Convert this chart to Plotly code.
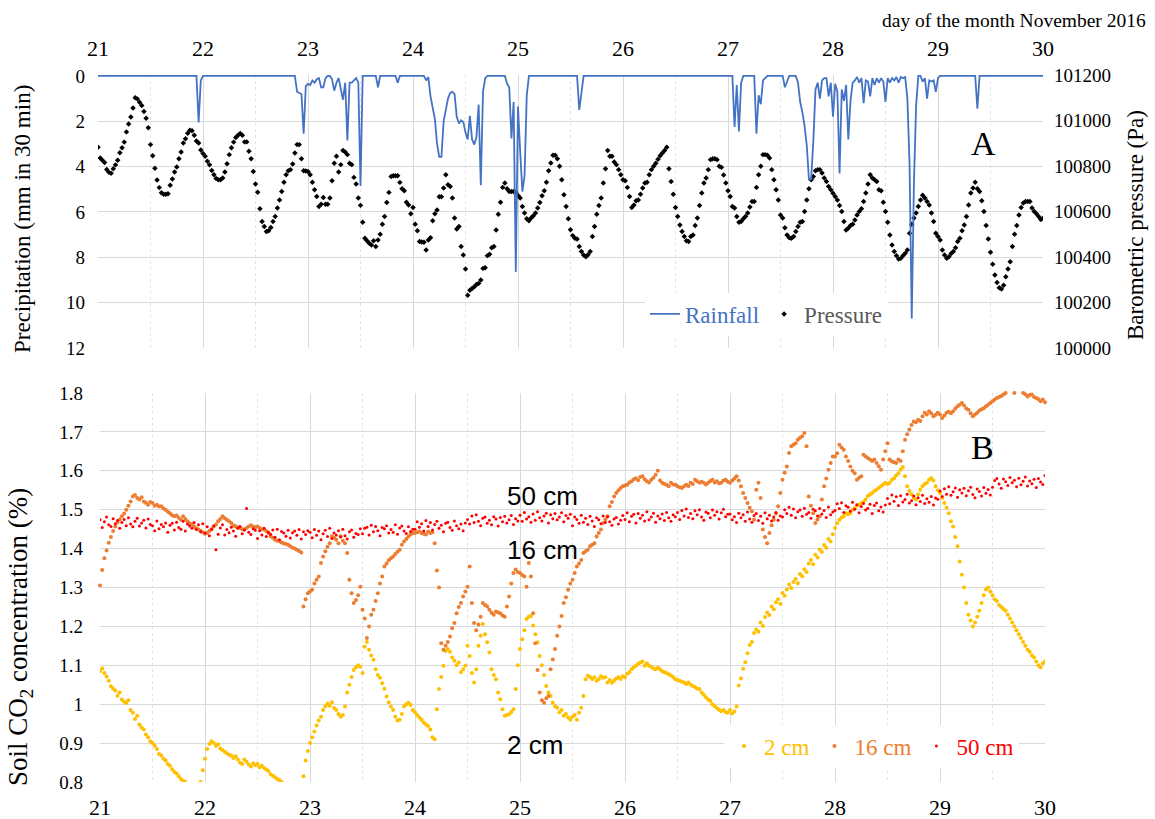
import numpy as np
import plotly.graph_objects as go

# Half-hourly timeline, 21 Nov 2016 00:00 -> 30 Nov 2016 00:00 (day of month)
N_SLOTS = 433
days = 21 + np.arange(N_SLOTS) / 48.0
day_ticks = list(range(21, 31))

# Barometric pressure (Pa), one row per day, 48 half-hour readings
pressure_pa = [
    100882, 100835, 100825, 100815, 100785, 100772, 100768, 100788, 100805, 100825, 100858, 100880, 100905, 100950, 100985, 101015, 101055, 101100, 101095, 101080, 101066, 101040, 101010, 100968, 100894, 100845, 100790, 100738, 100705, 100682, 100676, 100676, 100678, 100715, 100743, 100774, 100796, 100832, 100862, 100901, 100920, 100944, 100957, 100955, 100935, 100910, 100901, 100870,
    100855, 100843, 100821, 100805, 100780, 100762, 100745, 100740, 100740, 100747, 100774, 100810, 100850, 100880, 100905, 100925, 100935, 100943, 100935, 100906, 100906, 100865, 100832, 100776, 100721, 100685, 100612, 100556, 100534, 100512, 100515, 100530, 100556, 100578, 100615, 100651, 100688, 100729, 100762, 100779, 100784, 100809, 100857, 100894, 100894, 100832, 100779, 100778,
    100776, 100762, 100729, 100696, 100666, 100622, 100632, 100662, 100632, 100632, 100659, 100735, 100812, 100843, 100774, 100806, 100868, 100862, 100850, 100812, 100806, 100750, 100721, 100659, 100627, 100553, 100482, 100471, 100460, 100453, 100471, 100446, 100475, 100500, 100544, 100578, 100640, 100684, 100754, 100757, 100757, 100757, 100728, 100700, 100691, 100641, 100629, 100590,
    100618, 100544, 100515, 100468, 100466, 100465, 100431, 100475, 100485, 100559, 100590, 100607, 100665, 100665, 100703, 100762, 100718, 100710, 100659, 100571, 100523, 100534, 100446, 100409, 100347, 100232, 100254, 100262, 100269, 100279, 100284, 100299, 100350, 100353, 100406, 100412, 100441, 100446, 100519, 100588, 100641, 100706, 100725, 100700, 100688, 100688, 100688, 100685,
    100670, 100659, 100622, 100593, 100568, 100559, 100571, 100581, 100593, 100615, 100640, 100669, 100691, 100729, 100779, 100813, 100847, 100847, 100832, 100799, 100740, 100674, 100622, 100568, 100520, 100494, 100482, 100479, 100446, 100424, 100409, 100401, 100410, 100424, 100490, 100534, 100588, 100626, 100659, 100725, 100788, 100868, 100843, 100843, 100818, 100806, 100784, 100762,
    100740, 100735, 100706, 100666, 100618, 100629, 100647, 100651, 100676, 100703, 100725, 100729, 100762, 100784, 100799, 100812, 100830, 100845, 100857, 100868, 100882, 100788, 100732, 100676, 100618, 100578, 100541, 100512, 100490, 100471, 100468, 100490, 100497, 100538, 100571, 100626, 100681, 100725, 100747, 100784, 100828, 100832, 100832, 100828, 100799, 100794, 100760, 100725,
    100691, 100666, 100622, 100615, 100578, 100553, 100556, 100568, 100578, 100593, 100620, 100644, 100644, 100706, 100762, 100799, 100850, 100850, 100847, 100835, 100784, 100740, 100696, 100651, 100585, 100571, 100529, 100497, 100485, 100482, 100490, 100512, 100534, 100553, 100556, 100600, 100651, 100700, 100740, 100754, 100779, 100784, 100784, 100769, 100747, 100732, 100710, 100696,
    100680, 100666, 100651, 100626, 100600, 100556, 100519, 100527, 100538, 100544, 100563, 100585, 100600, 100612, 100644, 100681, 100721, 100762, 100747, 100740, 100732, 100696, 100691, 100641, 100600, 100553, 100497, 100453, 100424, 100406, 100391, 100394, 100406, 100416, 100431, 100504, 100544, 100571, 100593, 100622, 100651, 100671, 100659, 100644, 100629, 100593, 100556, 100504,
    100490, 100475, 100431, 100409, 100394, 100401, 100415, 100424, 100441, 100468, 100482, 100515, 100541, 100578, 100629, 100681, 100703, 100729, 100700, 100688, 100647, 100600, 100538, 100479, 100421, 100368, 100321, 100288, 100265, 100259, 100276, 100313, 100347, 100379, 100446, 100500, 100538, 100585, 100618, 100637, 100644, 100644, 100644, 100615, 100600, 100590, 100578, 100565,
    100570,
]

# Rainfall (mm in 30 min): first half-hour slot of each shower and its readings
rain_start = [46, 91, 107, 128, 137, 150, 187, 220, 291, 301, 314, 320, 377, 402]
rain_burst_mm = [
    [2.05, 0.2],
    [0.7, 0.75, 0.8, 2.55, 0.45, 0.35, 0.4, 0.2, 0.3, 0.15, 0.1, 0.5, 0.5, 0.1],
    [0.15, 0.65, 0.3, 0.1, 0.65, 1.05, 0.3, 2.85, 0.3, 0.3, 0.2, 0.1, 0.3, 4.85],
    [0.5],
    [0.3],
    [0.2, 0.05, 0.9, 1.5, 1.9, 3.0, 3.57, 3.57, 2.0, 1.5, 1.0, 0.75, 0.7, 0.8, 1.8, 2.1, 1.96, 2.03, 2.5, 2.8,
     1.76, 2.8, 3.03, 2.7, 1.26, 4.82, 0.7, 0.1],
    [0.34, 0.5, 2.76, 1.15, 8.65, 1.35, 3.35, 5.1, 4.4, 0.85],
    [1.5, 0.7],
    [2.25, 0.4, 2.45, 0.3],
    [2.55, 0.85, 1.25, 0.2, 0.1],
    [0.5, 0.2],
    [0.3, 1.15, 1.6, 2.2, 3.06, 4.56, 4.56, 2.9, 0.6, 0.3, 1.0, 0.2, 0.1, 0.1, 0.9, 0.3, 1.8, 0.35, 0.7, 4.3,
     0.6, 1.1, 0.4, 2.8, 1.1, 0.3, 0.2, 0.05, 0.3, 0.1, 1.2, 0.2, 0.25, 0.9, 0.1, 0.4, 0.1, 0.3, 0.1, 0.25,
     1.15, 0.1, 0.3, 0.1, 0.2, 0.05, 0.3, 0.05, 0.1, 0.05, 1.0, 3.9, 10.7, 4.7, 1.3],
    [0.25, 0.1, 1.0, 0.2, 0.25, 0.2, 0.7, 0.1],
    [1.45],
]

# Soil CO2 concentration (%), 48 half-hour readings per day
co2_2cm = [
    1.085, 1.092, 1.080, 1.071, 1.060, 1.046, 1.040, 1.035, 1.022, 1.030, 1.012, 1.006, 1.003, 1.010, 0.985, 0.978, 0.962, 0.970, 0.948, 0.940, 0.935, 0.922, 0.915, 0.905, 0.900, 0.893, 0.885, 0.872, 0.868, 0.860, 0.855, 0.846, 0.842, 0.833, 0.826, 0.822, 0.815, 0.808, 0.803, 0.800, 0.795, 0.790, 0.785, 0.782, 0.780, 0.785, 0.800, 0.830,
    0.860, 0.885, 0.898, 0.905, 0.900, 0.893, 0.897, 0.886, 0.882, 0.878, 0.874, 0.870, 0.868, 0.862, 0.866, 0.858, 0.850, 0.846, 0.858, 0.852, 0.845, 0.840, 0.848, 0.843, 0.846, 0.838, 0.842, 0.836, 0.832, 0.828, 0.820, 0.816, 0.812, 0.808, 0.805, 0.800, 0.795, 0.790, 0.785, 0.782, 0.780, 0.778, 0.780, 0.785, 0.792, 0.815, 0.855, 0.880,
    0.900, 0.915, 0.930, 0.945, 0.958, 0.968, 0.985, 0.995, 1.002, 0.996, 1.005, 0.990, 0.985, 0.975, 0.968, 0.972, 0.994, 1.030, 1.050, 1.070, 1.088, 1.095, 1.100, 1.096, 1.080, 1.148, 1.160, 1.140, 1.125, 1.114, 1.090, 1.075, 1.068, 1.054, 1.040, 1.020, 1.005, 0.994, 0.985, 0.968, 0.958, 0.960, 0.975, 0.995, 1.000, 1.004, 0.998, 0.985,
    0.979, 0.972, 0.966, 0.960, 0.953, 0.948, 0.944, 0.935, 0.915, 0.910, 0.987, 1.039, 1.070, 1.099, 1.137, 1.142, 1.135, 1.120, 1.112, 1.100, 1.107, 1.082, 1.090, 1.099, 1.150, 1.124, 1.080, 1.056, 1.090, 1.150, 1.176, 1.206, 1.180, 1.159, 1.133, 1.090, 1.075, 1.064, 1.030, 1.013, 0.987, 0.970, 0.972, 0.974, 0.980, 0.987, 1.039, 1.100,
    1.142, 1.167, 1.190, 1.219, 1.225, 1.227, 1.202, 1.180, 1.159, 1.124, 1.100, 1.075, 1.047, 1.030, 1.021, 1.004, 0.995, 0.991, 0.979, 0.985, 0.970, 0.975, 0.966, 0.960, 0.968, 0.972, 0.960, 0.978, 0.991, 1.021, 1.064, 1.073, 1.070, 1.065, 1.069, 1.060, 1.064, 1.072, 1.068, 1.069, 1.056, 1.062, 1.055, 1.060, 1.066, 1.069, 1.065, 1.072,
    1.069, 1.078, 1.082, 1.090, 1.095, 1.099, 1.104, 1.107, 1.110, 1.099, 1.105, 1.099, 1.096, 1.092, 1.090, 1.094, 1.090, 1.085, 1.082, 1.080, 1.077, 1.074, 1.070, 1.064, 1.062, 1.060, 1.058, 1.056, 1.052, 1.056, 1.050, 1.047, 1.044, 1.040, 1.039, 1.030, 1.024, 1.018, 1.012, 1.008, 1.000, 0.995, 0.990, 0.986, 0.982, 0.985, 0.980, 0.978,
    0.985, 0.976, 0.981, 0.994, 1.048, 1.066, 1.091, 1.108, 1.131, 1.152, 1.160, 1.183, 1.192, 1.186, 1.210, 1.201, 1.224, 1.236, 1.229, 1.251, 1.244, 1.262, 1.270, 1.258, 1.286, 1.279, 1.295, 1.308, 1.299, 1.314, 1.322, 1.311, 1.335, 1.329, 1.347, 1.340, 1.362, 1.371, 1.360, 1.384, 1.377, 1.398, 1.391, 1.409, 1.402, 1.425, 1.418, 1.437,
    1.453, 1.465, 1.474, 1.480, 1.483, 1.491, 1.488, 1.491, 1.500, 1.504, 1.510, 1.513, 1.517, 1.520, 1.526, 1.535, 1.539, 1.543, 1.548, 1.551, 1.556, 1.560, 1.565, 1.569, 1.566, 1.569, 1.577, 1.581, 1.588, 1.594, 1.603, 1.610, 1.586, 1.560, 1.548, 1.539, 1.530, 1.526, 1.540, 1.551, 1.560, 1.566, 1.569, 1.577, 1.581, 1.575, 1.560, 1.550,
    1.543, 1.530, 1.517, 1.505, 1.491, 1.470, 1.457, 1.430, 1.406, 1.367, 1.333, 1.300, 1.260, 1.230, 1.215, 1.200, 1.210, 1.225, 1.240, 1.260, 1.280, 1.295, 1.300, 1.290, 1.280, 1.270, 1.265, 1.255, 1.250, 1.245, 1.240, 1.230, 1.220, 1.210, 1.200, 1.190, 1.180, 1.170, 1.160, 1.150, 1.140, 1.135, 1.125, 1.120, 1.110, 1.100, 1.095, 1.105,
    1.110,
]

co2_16cm = [
    1.305, 1.345, 1.375, 1.395, 1.415, 1.430, 1.445, 1.457, 1.468, 1.475, 1.483, 1.490, 1.500, 1.510, 1.521, 1.534, 1.538, 1.530, 1.526, 1.532, 1.521, 1.518, 1.513, 1.520, 1.517, 1.510, 1.513, 1.508, 1.509, 1.503, 1.500, 1.495, 1.491, 1.486, 1.483, 1.485, 1.479, 1.474, 1.483, 1.476, 1.470, 1.465, 1.462, 1.457, 1.452, 1.449, 1.446, 1.442,
    1.438, 1.440, 1.445, 1.450, 1.457, 1.462, 1.470, 1.476, 1.483, 1.478, 1.474, 1.470, 1.466, 1.460, 1.457, 1.455, 1.453, 1.450, 1.449, 1.453, 1.457, 1.460, 1.457, 1.455, 1.457, 1.453, 1.450, 1.449, 1.445, 1.440, 1.432, 1.428, 1.423, 1.420, 1.419, 1.416, 1.414, 1.412, 1.410, 1.406, 1.402, 1.400, 1.397, 1.394, 1.390, 1.251, 1.270, 1.285,
    1.290, 1.294, 1.310, 1.320, 1.328, 1.363, 1.380, 1.393, 1.405, 1.414, 1.432, 1.428, 1.423, 1.414, 1.432, 1.420, 1.414, 1.389, 1.320, 1.285, 1.260, 1.268, 1.280, 1.302, 1.243, 1.220, 1.170, 1.200, 1.230, 1.243, 1.265, 1.285, 1.310, 1.328, 1.354, 1.362, 1.370, 1.375, 1.380, 1.386, 1.392, 1.397, 1.410, 1.418, 1.425, 1.431, 1.436, 1.440,
    1.440, 1.442, 1.444, 1.440, 1.438, 1.436, 1.444, 1.440, 1.442, 1.414, 1.344, 1.300, 1.157, 1.140, 1.150, 1.160, 1.174, 1.195, 1.209, 1.234, 1.250, 1.260, 1.277, 1.290, 1.302, 1.354, 1.260, 1.209, 1.190, 1.205, 1.225, 1.260, 1.255, 1.251, 1.243, 1.235, 1.230, 1.238, 1.236, 1.234, 1.228, 1.225, 1.251, 1.277, 1.310, 1.337, 1.346, 1.340,
    1.337, 1.332, 1.328, 1.302, 1.363, 1.328, 1.234, 1.157, 1.088, 1.030, 1.010, 1.004, 1.015, 1.021, 1.090, 1.115, 1.142, 1.176, 1.200, 1.227, 1.260, 1.275, 1.294, 1.310, 1.320, 1.337, 1.354, 1.362, 1.371, 1.389, 1.393, 1.397, 1.406, 1.410, 1.414, 1.431, 1.440, 1.449, 1.466, 1.475, 1.483, 1.509, 1.520, 1.534, 1.543, 1.550, 1.556, 1.560,
    1.562, 1.564, 1.570, 1.573, 1.578, 1.581, 1.576, 1.584, 1.586, 1.578, 1.573, 1.570, 1.577, 1.582, 1.590, 1.600, 1.575, 1.569, 1.566, 1.564, 1.560, 1.569, 1.565, 1.564, 1.560, 1.558, 1.556, 1.560, 1.564, 1.561, 1.569, 1.566, 1.577, 1.573, 1.569, 1.572, 1.569, 1.565, 1.569, 1.574, 1.577, 1.570, 1.573, 1.568, 1.569, 1.575, 1.577, 1.572,
    1.569, 1.575, 1.580, 1.586, 1.575, 1.560, 1.543, 1.530, 1.517, 1.505, 1.496, 1.474, 1.551, 1.569, 1.530, 1.449, 1.430, 1.414, 1.440, 1.460, 1.474, 1.490, 1.509, 1.543, 1.577, 1.595, 1.611, 1.646, 1.663, 1.667, 1.671, 1.680, 1.685, 1.689, 1.697, 1.663, 1.534, 1.510, 1.491, 1.466, 1.475, 1.483, 1.526, 1.560, 1.580, 1.603, 1.620, 1.637,
    1.637, 1.645, 1.667, 1.660, 1.654, 1.637, 1.625, 1.611, 1.600, 1.594, 1.577, 1.582, 1.586, 1.641, 1.637, 1.633, 1.629, 1.625, 1.629, 1.620, 1.612, 1.603, 1.629, 1.650, 1.671, 1.629, 1.624, 1.622, 1.620, 1.629, 1.625, 1.650, 1.680, 1.694, 1.706, 1.718, 1.727, 1.725, 1.731, 1.728, 1.740, 1.749, 1.745, 1.753, 1.748, 1.740, 1.744, 1.749,
    1.745, 1.736, 1.742, 1.749, 1.752, 1.748, 1.753, 1.760, 1.766, 1.770, 1.774, 1.768, 1.760, 1.757, 1.748, 1.740, 1.745, 1.749, 1.755, 1.758, 1.761, 1.766, 1.770, 1.774, 1.779, 1.783, 1.787, 1.790, 1.792, 1.796, 1.800, 1.804, 1.802, 1.806, 1.800, 1.805, 1.808, 1.803, 1.800, 1.797, 1.791, 1.795, 1.796, 1.790, 1.787, 1.784, 1.779, 1.783,
    1.776,
]

co2_50cm = [
    1.474, 1.454, 1.469, 1.481, 1.461, 1.457, 1.477, 1.464, 1.472, 1.452, 1.467, 1.475, 1.459, 1.479, 1.463, 1.456, 1.470, 1.478, 1.458, 1.466, 1.473, 1.453, 1.476, 1.462, 1.459, 1.446, 1.471, 1.451, 1.462, 1.456, 1.466, 1.442, 1.460, 1.465, 1.448, 1.468, 1.454, 1.450, 1.470, 1.445, 1.463, 1.458, 1.452, 1.467, 1.449, 1.461, 1.443, 1.464,
    1.440, 1.456, 1.433, 1.450, 1.458, 1.397, 1.437, 1.453, 1.461, 1.435, 1.449, 1.441, 1.455, 1.445, 1.432, 1.452, 1.457, 1.438, 1.448, 1.503, 1.442, 1.436, 1.451, 1.447, 1.426, 1.446, 1.435, 1.452, 1.431, 1.442, 1.437, 1.448, 1.429, 1.450, 1.423, 1.444, 1.440, 1.432, 1.447, 1.427, 1.441, 1.445, 1.434, 1.449, 1.425, 1.443, 1.436, 1.446,
    1.442, 1.428, 1.449, 1.434, 1.445, 1.423, 1.438, 1.447, 1.431, 1.452, 1.426, 1.440, 1.435, 1.446, 1.430, 1.450, 1.433, 1.425, 1.443, 1.448, 1.429, 1.439, 1.436, 1.451, 1.438, 1.452, 1.455, 1.435, 1.460, 1.443, 1.457, 1.446, 1.433, 1.454, 1.451, 1.459, 1.440, 1.449, 1.442, 1.461, 1.437, 1.453, 1.458, 1.445, 1.439, 1.456, 1.444, 1.450,
    1.450, 1.469, 1.455, 1.464, 1.445, 1.472, 1.457, 1.467, 1.448, 1.462, 1.470, 1.452, 1.460, 1.443, 1.465, 1.468, 1.454, 1.447, 1.471, 1.459, 1.451, 1.463, 1.446, 1.466, 1.475, 1.463, 1.484, 1.467, 1.487, 1.470, 1.459, 1.478, 1.481, 1.465, 1.473, 1.461, 1.482, 1.476, 1.458, 1.480, 1.469, 1.483, 1.466, 1.474, 1.485, 1.462, 1.477, 1.471,
    1.486, 1.470, 1.493, 1.476, 1.482, 1.468, 1.489, 1.473, 1.495, 1.479, 1.471, 1.484, 1.491, 1.466, 1.487, 1.477, 1.490, 1.474, 1.481, 1.492, 1.469, 1.485, 1.478, 1.488, 1.459, 1.481, 1.475, 1.465, 1.486, 1.468, 1.478, 1.462, 1.483, 1.471, 1.457, 1.479, 1.474, 1.464, 1.484, 1.467, 1.482, 1.469, 1.460, 1.476, 1.480, 1.463, 1.473, 1.485,
    1.475, 1.492, 1.469, 1.483, 1.488, 1.466, 1.490, 1.478, 1.486, 1.471, 1.495, 1.474, 1.481, 1.491, 1.468, 1.484, 1.477, 1.489, 1.472, 1.493, 1.479, 1.470, 1.487, 1.482, 1.493, 1.475, 1.498, 1.484, 1.502, 1.480, 1.490, 1.477, 1.497, 1.487, 1.500, 1.481, 1.473, 1.494, 1.491, 1.479, 1.499, 1.486, 1.495, 1.476, 1.492, 1.501, 1.482, 1.488,
    1.489, 1.474, 1.482, 1.467, 1.491, 1.479, 1.487, 1.470, 1.494, 1.476, 1.468, 1.485, 1.490, 1.472, 1.483, 1.465, 1.492, 1.477, 1.486, 1.471, 1.481, 1.493, 1.473, 1.484, 1.481, 1.500, 1.490, 1.506, 1.486, 1.502, 1.479, 1.495, 1.499, 1.483, 1.504, 1.488, 1.493, 1.478, 1.501, 1.497, 1.484, 1.503, 1.489, 1.498, 1.480, 1.507, 1.487, 1.494,
    1.498, 1.515, 1.503, 1.518, 1.493, 1.510, 1.506, 1.496, 1.519, 1.501, 1.513, 1.492, 1.508, 1.516, 1.499, 1.504, 1.514, 1.490, 1.511, 1.517, 1.497, 1.507, 1.494, 1.512, 1.529, 1.515, 1.538, 1.522, 1.533, 1.511, 1.536, 1.520, 1.526, 1.540, 1.517, 1.523, 1.535, 1.513, 1.531, 1.521, 1.537, 1.516, 1.528, 1.519, 1.534, 1.512, 1.530, 1.527,
    1.548, 1.534, 1.554, 1.540, 1.559, 1.537, 1.546, 1.556, 1.532, 1.551, 1.543, 1.555, 1.536, 1.549, 1.558, 1.539, 1.531, 1.553, 1.547, 1.535, 1.557, 1.542, 1.552, 1.538, 1.558, 1.575, 1.580, 1.566, 1.555, 1.579, 1.572, 1.562, 1.583, 1.569, 1.576, 1.559, 1.581, 1.564, 1.573, 1.584, 1.561, 1.574, 1.567, 1.578, 1.557, 1.580, 1.571, 1.565,
    1.588,
]

for series in (pressure_pa, co2_2cm, co2_16cm, co2_50cm):
    assert len(series) == N_SLOTS, len(series)

# Full half-hourly rainfall series (dry slots are zero)
rain_mm = np.zeros(N_SLOTS)
for start, burst in zip(rain_start, rain_burst_mm):
    rain_mm[start:start + len(burst)] = burst

SERIF = "Liberation Serif"
SANS = "Liberation Sans"
GRID = "#d9d9d9"
GRID_HALF = "#e4e4e4"
INK = "#000000"

# Plot-area geometry (px) inside the 1155 x 819 page
L, R, T, B = 98, 110, 75, 37
W, H = 1155 - L - R, 819 - T - B


def px_x(px):
    return (px - L) / W


def px_y(py):
    return (819 - B - py) / H


fig = go.Figure()

# ---- panel A: pressure dots and rainfall line ----
fig.add_trace(go.Scatter(
    x=days, y=pressure_pa, mode="markers",
    name='<span style="color:#595959">Pressure</span>',
    marker=dict(symbol="diamond", size=4.2, color="black", line=dict(width=0)),
    xaxis="x", yaxis="y", legend="legend", legendrank=2,
))
fig.add_trace(go.Scatter(
    x=days, y=rain_mm, mode="lines",
    name='<span style="color:#4472C4">Rainfall</span>',
    line=dict(color="#4472C4", width=1.8),
    xaxis="x", yaxis="y2", legend="legend", legendrank=1,
))

# ---- panel B: soil CO2 at three depths ----
for values, label, color, size, clip in (
    (co2_2cm, "2 cm", "#FFC000", 4, True),
    (co2_16cm, "16 cm", "#ED7D31", 4, False),
    (co2_50cm, "50 cm", "#FF0000", 3, True),
):
    fig.add_trace(go.Scatter(
        x=days, y=values, mode="markers", cliponaxis=clip,
        name=f'<span style="color:{color}">{label}</span>',
        marker=dict(size=size, color=color, line=dict(width=0)),
        xaxis="x2", yaxis="y3", legend="legend2",
    ))

day_axis = dict(
    range=[21, 30], tickmode="array", tickvals=day_ticks,
    ticks="", showline=False, zeroline=False,
    showgrid=True, gridcolor=GRID, gridwidth=1,
    minor=dict(dtick=0.5, tick0=21, showgrid=True, gridcolor=GRID_HALF,
               griddash="3px,3px", gridwidth=1, ticks=""),
    tickfont=dict(family=SERIF, size=22, color=INK),
)

top_domain = [px_y(348), 1.0]
bottom_domain = [0.0, px_y(393)]

fig.update_layout(
    width=1155, height=819,
    margin=dict(l=L, r=R, t=T, b=B),
    template="none",
    paper_bgcolor="white", plot_bgcolor="white",
    font=dict(family=SERIF, size=19, color=INK),
    xaxis=dict(day_axis, domain=[0, px_x(1043)], anchor="y", side="top",
               ticklabelstandoff=14),
    yaxis=dict(domain=top_domain, anchor="x", side="right",
               range=[100000, 101200], tickmode="linear", tick0=100000, dtick=200,
               tickformat="d", showgrid=False, zeroline=False, showline=False, ticks="",
               tickfont=dict(family=SERIF, size=19, color=INK), ticklabelstandoff=10),
    yaxis2=dict(overlaying="y", anchor="x", side="left",
                range=[12, -0.04], tickmode="linear", tick0=0, dtick=2,
                showgrid=True, gridcolor=GRID, zeroline=False, showline=False, ticks="",
                tickfont=dict(family=SERIF, size=19, color=INK), ticklabelstandoff=12),
    xaxis2=dict(day_axis, domain=[px_x(100), 1.0], anchor="y3", side="bottom",
                ticklabelstandoff=10),
    yaxis3=dict(domain=bottom_domain, anchor="x2",
                range=[0.8, 1.8], tickmode="linear", tick0=0.8, dtick=0.1,
                showgrid=True, gridcolor=GRID, zeroline=False, showline=False, ticks="",
                tickfont=dict(family=SERIF, size=19, color=INK), ticklabelstandoff=16),
    showlegend=True,
    legend=dict(orientation="h", x=px_x(645), y=px_y(314), xanchor="left", yanchor="middle",
                bgcolor="white", borderwidth=0, itemwidth=30,
                font=dict(family=SERIF, size=23, color="#595959")),
    legend2=dict(orientation="h", x=px_x(724), y=px_y(746), xanchor="left", yanchor="middle",
                 bgcolor="white", borderwidth=0, itemwidth=30,
                 font=dict(family=SERIF, size=23, color="#595959")),
)

annotations = [
    dict(text="day of the month November 2016", xref="paper", yref="paper",
         x=px_x(1148), y=px_y(20), xanchor="right", yanchor="middle",
         font=dict(family=SERIF, size=19.5, color=INK)),
    dict(text="Precipitation (mm in 30 min)", xref="paper", yref="paper",
         x=px_x(22), y=px_y(219), textangle=-90, xanchor="center", yanchor="middle",
         font=dict(family=SERIF, size=23, color=INK)),
    dict(text="Barometric pressure (Pa)", xref="paper", yref="paper",
         x=px_x(1135), y=px_y(225), textangle=-90, xanchor="center", yanchor="middle",
         font=dict(family=SERIF, size=23, color=INK)),
    dict(text="Soil CO<sub>2</sub> concentration (%)", xref="paper", yref="paper",
         x=px_x(20), y=px_y(637), textangle=-90, xanchor="center", yanchor="middle",
         font=dict(family=SERIF, size=27, color=INK)),
    dict(text="A", xref="x", yref="y2", x=29.43, y=2.99,
         font=dict(family=SERIF, size=34, color=INK)),
    dict(text="B", xref="x2", yref="y3", x=29.4, y=1.66,
         font=dict(family=SERIF, size=34, color=INK)),
    dict(text="50 cm", xref="x2", yref="y3", x=25.21, y=1.535,
         font=dict(family=SANS, size=26, color=INK)),
    dict(text="16 cm", xref="x2", yref="y3", x=25.21, y=1.396,
         font=dict(family=SANS, size=26, color=INK)),
    dict(text="2 cm", xref="x2", yref="y3", x=25.14, y=0.896,
         font=dict(family=SANS, size=26, color=INK)),
]
for a in annotations:
    a.setdefault("showarrow", False)
fig.update_layout(annotations=annotations)

fig.write_html("out.html")
